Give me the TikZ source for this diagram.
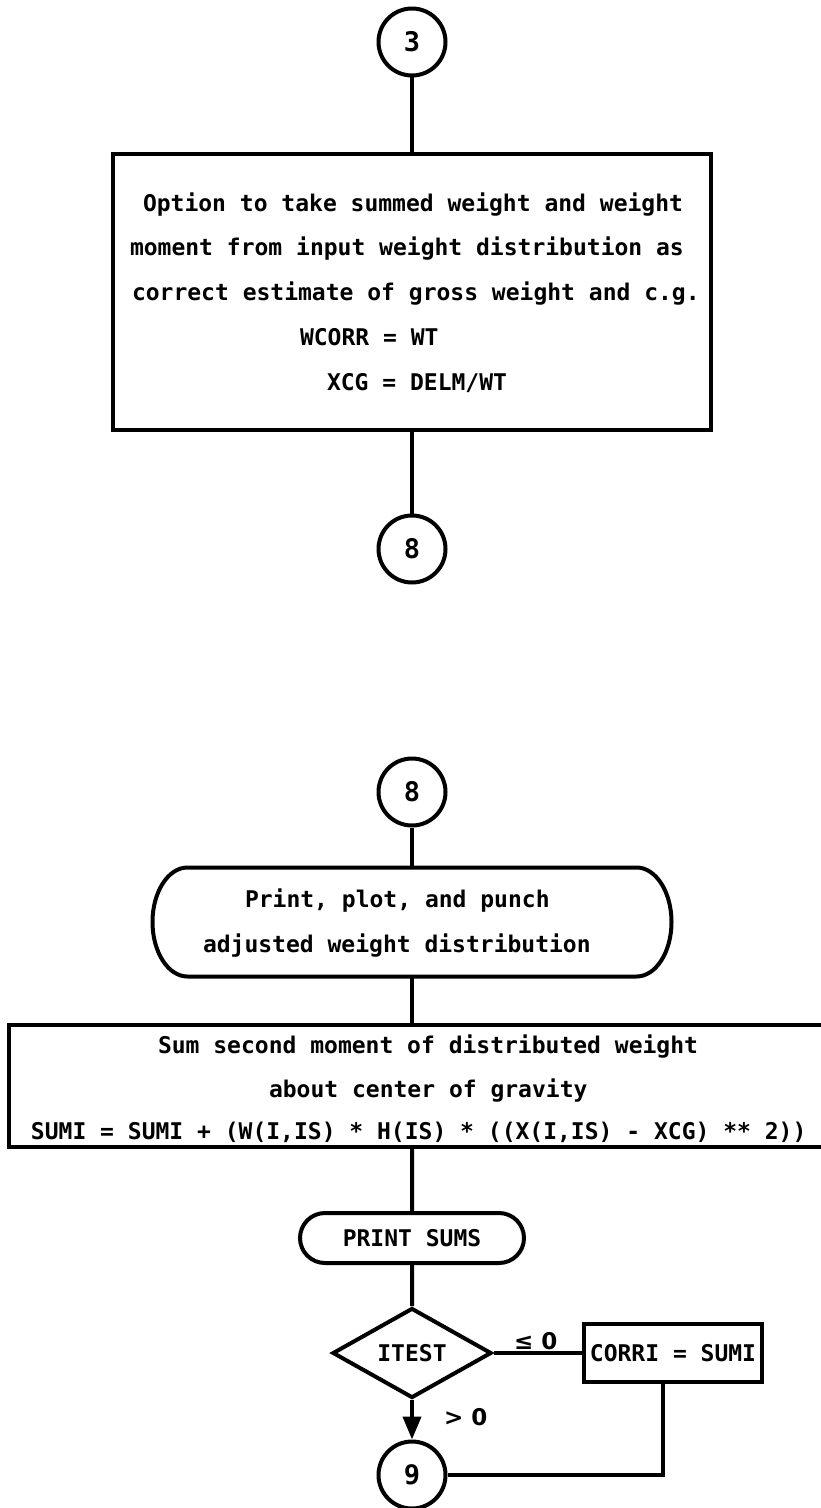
\documentclass[tikz,border=0pt]{standalone}
\usepackage{fontspec}
\usepackage{tikz}
\usetikzlibrary{shapes.geometric,shapes.misc,arrows.meta}
\newfontfamily\flowfont{DejaVu Sans Mono}
\newfontfamily\labelfont{DejaVu Sans}

\tikzset{
    flowtext/.style={font=\flowfont\bfseries\fontsize{11.5pt}{13pt}\selectfont},
    txt/.style={flowtext,anchor=base west,inner sep=0pt},
    conn/.style={draw,circle,minimum size=33.5pt,inner sep=0pt,
        font=\flowfont\bfseries\fontsize{13.5pt}{15pt}\selectfont},
    procbox/.style={draw,rectangle,inner sep=0pt,flowtext},
    termbox/.style={draw,rounded rectangle,inner sep=0pt,flowtext},
    decide/.style={draw,diamond,inner sep=0pt,flowtext},
    branch/.style={anchor=base west,inner sep=0pt,
        font=\labelfont\bfseries\fontsize{11.5pt}{13pt}\selectfont},
}

\begin{document}
\begin{tikzpicture}[x=0.5pt,y=-0.5pt,line width=2pt]
    \useasboundingbox (0,0) rectangle (820,1508);

    % page top: option box
    \node[conn] (c3) at (412,42) {3};
    \node[procbox,minimum width=299pt,minimum height=138pt] (option) at (412,292) {};
    \node[txt] (opt1) at (141,212) {Option to take summed weight and weight};
    \node[txt] (opt2) at (128,256) {moment from input weight distribution as};
    \node[txt] (opt3) at (130,300) {correct estimate of gross weight and c.g.};
    \node[txt] (wcorr) at (298,345) {WCORR = WT};
    \node[txt] (xcg) at (325,390) {XCG = DELM/WT};
    \node[conn] (c8a) at (412,549) {8};
    \draw (c3) -- (option);
    \draw (option) -- (c8a);

    % page bottom
    \node[conn] (c8b) at (412,792) {8};
    \node[minimum width=259.5pt,minimum height=54.5pt,inner sep=0pt,outer sep=0pt] (plot) at (412,922) {};
    \draw ([xshift=17.5pt]plot.north west) -- ([xshift=-17.5pt]plot.north east)
        arc[start angle=90,end angle=-90,x radius=17.5pt,y radius=27.25pt]
        -- ([xshift=17.5pt]plot.south west)
        arc[start angle=270,end angle=90,x radius=17.5pt,y radius=27.25pt] -- cycle;
    \node[txt] (plot1) at (243,907) {Print, plot, and punch};
    \node[txt] (plot2) at (201,952) {adjusted weight distribution};
    \draw (c8b) -- (plot);

    \node[procbox,minimum width=410.5pt,minimum height=61pt] (sumbox) at (419.5,1086) {};
    \node[txt] (sum1) at (156,1053) {Sum second moment of distributed weight};
    \node[txt] (sum2) at (267,1097) {about center of gravity};
    \node[txt] (sum3) at (29,1139) {SUMI = SUMI + (W(I,IS) * H(IS) * ((X(I,IS) - XCG) ** 2))};
    \draw (plot) -- (plot |- sumbox.north);

    \node[termbox,minimum width=112pt,minimum height=25pt] (psums) at (412,1238) {PRINT SUMS};
    \node[decide,minimum width=79.5pt,minimum height=45pt] (itest) at (412,1353) {ITEST};
    \node[procbox,minimum width=89pt,minimum height=29pt] (corri) at (673,1353) {CORRI = SUMI};
    \node[conn] (c9) at (412,1475) {9};
    \draw (sumbox.south -| psums) -- (psums);
    \draw (psums) -- (itest);
    \draw (itest) -- (corri);
    \draw[-{Triangle[length=11.5pt,width=9pt]}] (itest) -- (c9);
    \draw ([xshift=-5pt]corri.south) |- (c9);
    \node[branch] (le) at (512,1349) {≤ 0};
    \node[branch] (gt) at (442,1425) {> 0};
\end{tikzpicture}
\end{document}
